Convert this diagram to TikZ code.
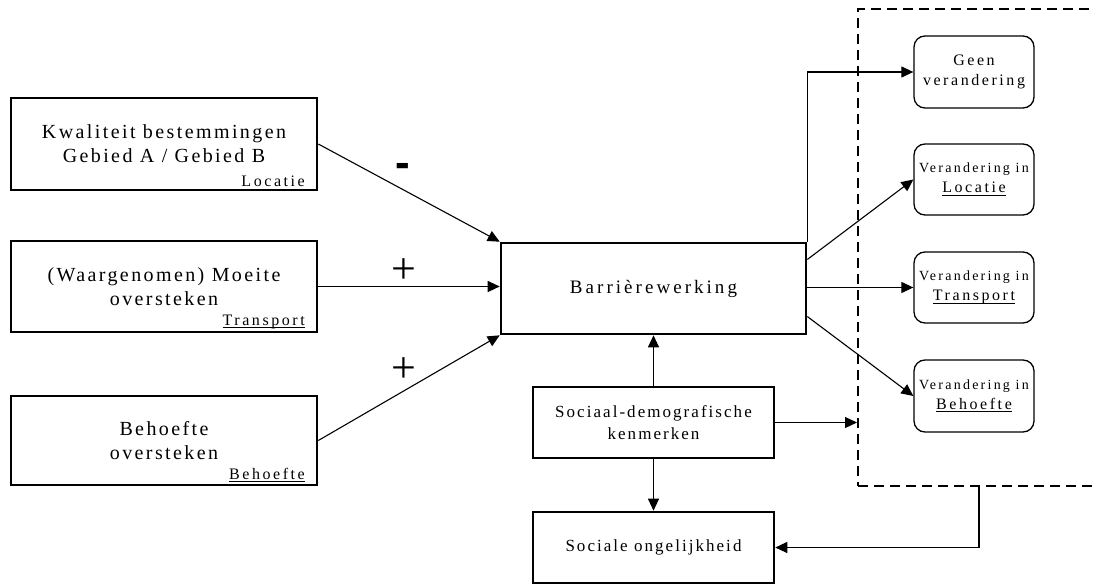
\documentclass[tikz,border=0pt]{standalone}
\usepackage{fontspec}
\setmainfont{Liberation Serif}
\newfontfamily\lsA[LetterSpace=12]{Liberation Serif}
\newfontfamily\lsB[LetterSpace=16]{Liberation Serif}
\newfontfamily\sgnfont{Liberation Sans}
\usetikzlibrary{arrows.meta}
\newcommand\myul[1]{\setbox0\hbox{#1}\rlap{\rule[-3pt]{\wd0}{1pt}}\box0}
\begin{document}
\begin{tikzpicture}[x=1pt,y=-1pt,
  lbox/.style={draw,line width=2.6pt,minimum width=306pt,inner sep=0pt,align=center,
    font=\lsA\fontsize{20}{24}\selectfont},
  cbox/.style={draw,line width=2.6pt,minimum width=241pt,inner sep=0pt,align=center,
    font=\lsA\fontsize{17}{22}\selectfont},
  rbox/.style={draw,line width=1.3pt,rounded corners=11pt,minimum width=120pt,minimum height=71pt,
    inner sep=0pt,align=center,font=\lsB\fontsize{16}{20}\selectfont},
  sub/.style={inner sep=0pt,anchor=base east,font=\lsB\fontsize{16}{20}\selectfont},
  sgn/.style={inner sep=0pt,font=\fontsize{44}{44}\selectfont},
  arr/.style={-{Triangle[length=12pt,width=11pt]},line width=1.1pt},
  ln/.style={line width=1.1pt}]
\useasboundingbox (0,0) rectangle (1094,585);
\fill[white] (0,0) rectangle (1094,585);

% dashed frame
\node[draw,dashed,dash pattern=on 10pt off 6pt,line width=2pt,minimum width=245pt,minimum height=477pt,inner sep=0pt] (frame) at (980.5,247.5) {};

% left boxes
\node[lbox,minimum height=92pt] (k) at (164,144) {Kwaliteit bestemmingen\\Gebied A / Gebied B};
\node[sub] (kl) at (305,187) {Locatie};
\node[lbox,minimum height=91pt] (m) at (164,286.5) {(Waargenomen) Moeite\\oversteken};
\node[sub] (ml) at (305,325) {\myul{Transport}};
\node[lbox,minimum height=89pt] (h) at (164,440.5) {Behoefte\\oversteken};
\node[sub] (hl) at (305,479) {\myul{Behoefte}};

% center boxes
\node[lbox,minimum width=305pt,minimum height=91pt,font=\lsB\fontsize{19}{24}\selectfont] (b) at (653.5,288.5) {Barrièrewerking};
\node[cbox,minimum height=71pt] (s) at (653.5,422.5) {Sociaal-demografische\\kenmerken};
\node[cbox,minimum height=71pt] (o) at (653.5,547.5) {Sociale ongelijkheid};

% right rounded boxes
\node[rbox,minimum height=72pt] (g) at (974,72) {Geen\\verandering};
\node[rbox] (rl) at (974,179.5) {{\fontsize{14}{20}\selectfont Verandering in}\\\myul{Locatie}};
\node[rbox] (rt) at (974,287.5) {{\fontsize{14}{20}\selectfont Verandering in}\\\myul{Transport}};
\node[rbox,minimum height=72pt] (rb) at (974,396) {{\fontsize{14}{20}\selectfont Verandering in}\\\myul{Behoefte}};

% signs
\node[sgn,font=\sgnfont\bfseries\fontsize{44}{44}\selectfont] (minus) at (403,170) {-};
\node[sgn] (plus1) at (404,271) {+};
\node[sgn] (plus2) at (404,370) {+};

% connectors
\draw[arr] (k.east) -- (b.north west);
\draw[arr] (m.east) -- (m.east -| b.west);
\draw[arr] (h.east) -- (b.south west);
\draw[arr] (b.north east) |- (g.west);
\draw[arr] ([yshift=29pt]b.east) -- (rl.west);
\draw[arr] ([yshift=1pt]b.east) -- ([yshift=1pt]b.east -| rt.west);
\draw[arr] ([yshift=-28pt]b.east) -- (rb.west);
\draw[arr] (s.north) -- (b.south);
\draw[arr] (s.south) -- (o.north);
\draw[arr] (s.east) -- (s.east -| frame.west);
\draw[arr] ([xshift=-1.5pt]frame.south) |- (o.east);
\end{tikzpicture}
\end{document}
